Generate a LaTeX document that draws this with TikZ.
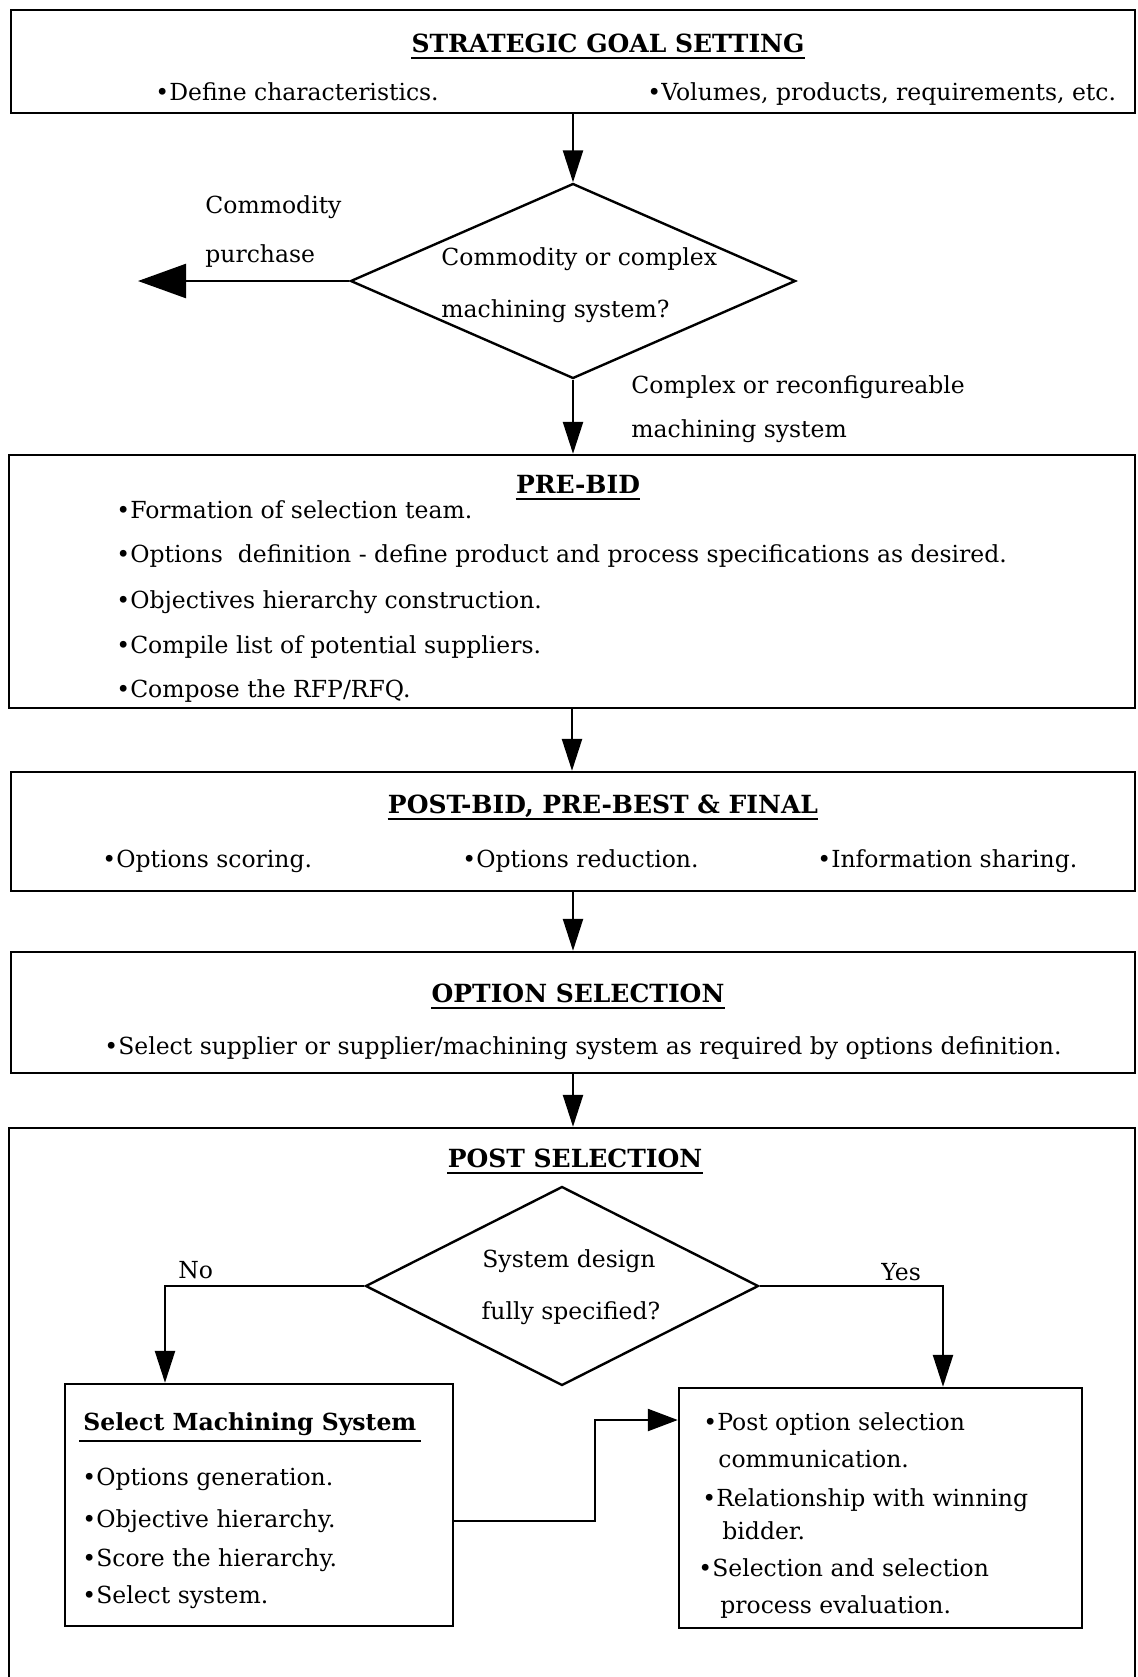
\documentclass[tikz,border=0pt]{standalone}
\usepackage{fontspec}
\setmainfont{DejaVu Serif}
\usetikzlibrary{shapes.geometric,arrows.meta}

\tikzset{
  box/.style={draw, line width=1.2pt, inner sep=0pt},
  decision/.style={diamond, draw, line width=1.2pt, inner sep=0pt},
  txt/.style={inner sep=0pt, anchor=base west},
  head/.style={inner sep=0pt, anchor=base, font={\fontsize{12.5pt}{15pt}\selectfont\bfseries}},
  uline/.style={line width=1pt},
  flow/.style={line width=1.2pt, -{Triangle[length=16pt,width=10pt]}},
}

\begin{document}
\begin{tikzpicture}[x=0.5pt, y=-0.5pt, font=\fontsize{11.75pt}{14pt}\selectfont]
    \useasboundingbox (0,0) rectangle (1137,1677);

    % Strategic goal setting
    \node[box, minimum width=562pt, minimum height=51.5pt] (goal) at (573,61.5) {};
    \node[head] (g0) at (608,52) {STRATEGIC GOAL SETTING};
    \draw[uline] ([yshift=-3pt]g0.base west) -- ([yshift=-3pt]g0.base east);
    \node[txt] (g1) at (155,100) {•Define characteristics.};
    \node[txt] (g2) at (647,100) {•Volumes, products, requirements, etc.};

    % First decision
    \node[decision, minimum width=222.5pt, minimum height=97.5pt] (d1) at (573,281) {};
    \node[txt] (d1a) at (441,265) {Commodity or complex};
    \node[txt] (d1b) at (441,317) {machining system?};
    \coordinate (buy) at (138,281);
    \node[txt] (c1) at (205,213) {Commodity};
    \node[txt] (c2) at (205,262) {purchase};
    \node[txt] (x1) at (631,393) {Complex or reconfigureable};
    \node[txt] (x2) at (631,437) {machining system};

    % Pre-bid
    \node[box, minimum width=563pt, minimum height=126.5pt] (prebid) at (572,581.5) {};
    \node[head] (p0) at (578,493) {PRE-BID};
    \draw[uline] ([yshift=-3pt]p0.base west) -- ([yshift=-3pt]p0.base east);
    \node[txt] (p1) at (116,518) {•Formation of selection team.};
    \node[txt] (p2) at (116,562) {•Options~ definition - define product and process specifications as desired.};
    \node[txt] (p3) at (116,608) {•Objectives hierarchy construction.};
    \node[txt] (p4) at (116,653) {•Compile list of potential suppliers.};
    \node[txt] (p5) at (116,697) {•Compose the RFP/RFQ.};

    % Post-bid
    \node[box, minimum width=562pt, minimum height=59.5pt] (postbid) at (573,831.5) {};
    \node[head] (q0) at (603,813) {POST-BID, PRE-BEST \& FINAL};
    \draw[uline] ([yshift=-3pt]q0.base west) -- ([yshift=-3pt]q0.base east);
    \node[txt] (q1) at (102,867) {•Options scoring.};
    \node[txt] (q2) at (462,867) {•Options reduction.};
    \node[txt] (q3) at (817,867) {•Information sharing.};

    % Option selection
    \node[box, minimum width=562pt, minimum height=60.5pt] (optsel) at (573,1012.5) {};
    \node[head] (o0) at (578,1002) {OPTION SELECTION};
    \draw[uline] ([yshift=-3pt]o0.base west) -- ([yshift=-3pt]o0.base east);
    \node[txt] (o1) at (104,1054) {•Select supplier or supplier/machining system as required by options definition.};

    % Post selection
    \node[box, minimum width=563pt, minimum height=286pt] (postsel) at (572,1414) {};
    \node[head] (s0) at (575,1167) {POST SELECTION};
    \draw[uline] ([yshift=-3pt]s0.base west) -- ([yshift=-3pt]s0.base east);
    \node[decision, minimum width=196.5pt, minimum height=99.5pt] (d2) at (562,1286) {};
    \node[inner sep=0pt, anchor=base] (d2a) at (569,1267) {System design};
    \node[inner sep=0pt, anchor=base] (d2b) at (571,1319) {fully specified?};
    \coordinate (no) at (165,1286);
    \coordinate (yes) at (943,1286);
    \node[txt] (n0) at (178,1278) {No};
    \node[txt] (y0) at (881,1280) {Yes};

    % Select machining system
    \node[box, minimum width=194pt, minimum height=121pt] (sms) at (259,1505) {};
    \node[txt, font={\fontsize{11.75pt}{14pt}\selectfont\bfseries}] (m0) at (83,1430) {Select Machining System};
    \draw[uline] ([xshift=-2pt,yshift=-5.5pt]m0.base west) -- ([xshift=2pt,yshift=-5.5pt]m0.base east);
    \node[txt] (m1) at (82,1485) {•Options generation.};
    \node[txt] (m2) at (82,1527) {•Objective hierarchy.};
    \node[txt] (m3) at (82,1566) {•Score the hierarchy.};
    \node[txt] (m4) at (82,1603) {•Select system.};

    % Post option selection
    \node[box, minimum width=201.5pt, minimum height=120pt] (post) at (880.5,1508) {};
    \node[txt] (r1) at (703,1430) {•Post option selection};
    \node[txt] (r2) at (718,1467) {communication.};
    \node[txt] (r3) at (702,1506) {•Relationship with winning};
    \node[txt] (r4) at (722,1539) {bidder.};
    \node[txt] (r5) at (698,1576) {•Selection and selection};
    \node[txt] (r6) at (720,1613) {process evaluation.};
    \coordinate (linka) at (595,1521);
    \coordinate (linkb) at (595,1420);

    % Connectors
    \draw[flow] (goal.south) -- (d1.north);
    \draw[line width=1.2pt, -{Triangle[length=24pt,width=17pt]}] (d1.west) -- (buy);
    \draw[flow] (d1.south) -- (d1.south |- prebid.north);
    \draw[flow] (prebid.south) -- (prebid.south |- postbid.north);
    \draw[flow] (postbid.south) -- (postbid.south |- optsel.north);
    \draw[flow] (optsel.south) -- (optsel.south |- postsel.north);
    \draw[flow] (d2.west) -- (no) -- (no |- sms.north);
    \draw[flow] (d2.east) -- (yes) -- (yes |- post.north);
    \draw[line width=1.2pt, -{Triangle[length=15pt,width=11pt]}] (linka -| sms.east) -- (linka) -- (linkb) -- (linkb -| post.west);
\end{tikzpicture}
\end{document}
